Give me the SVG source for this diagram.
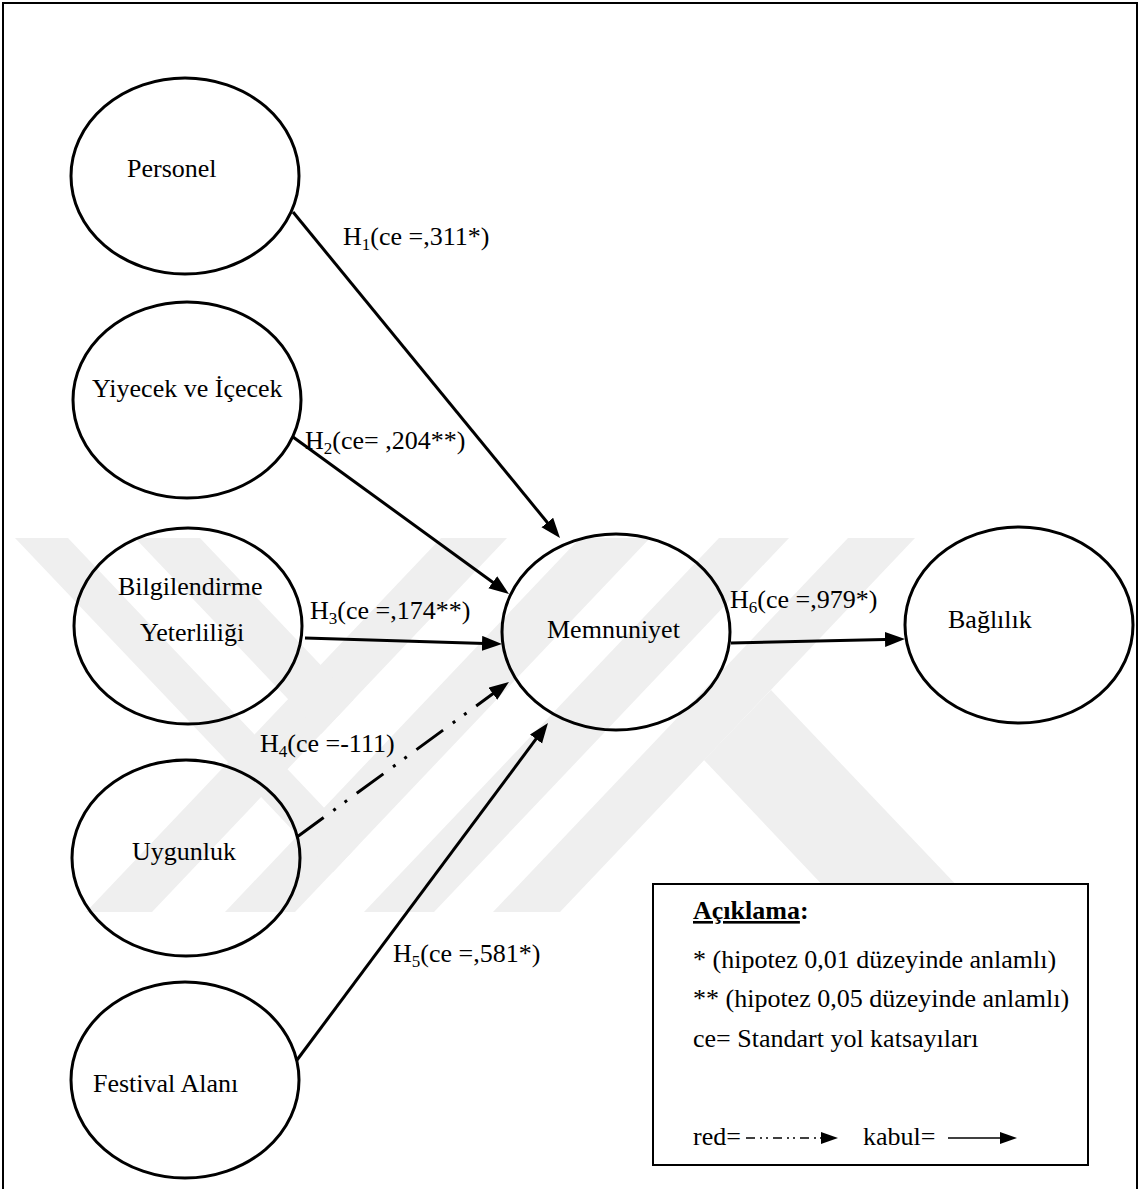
<svg xmlns="http://www.w3.org/2000/svg" width="1140" height="1189" viewBox="0 0 1140 1189">
<style>
.node{fill:none;stroke:#000;stroke-width:3}
.lbl{font-family:"Liberation Serif","Times New Roman",serif;font-size:26px;fill:#000}
.sub{font-size:17px}
.edge{stroke:#000;stroke-width:3;fill:none}
.wm{fill:#efefef}
</style>
<defs>
<marker id="ah" markerUnits="userSpaceOnUse" markerWidth="21" markerHeight="16" refX="11" refY="7.5" orient="auto">
<path d="M0,0 L20,7.5 L0,15 z" fill="#000"/>
</marker>
<clipPath id="wmclip"><rect x="5" y="538" width="1130" height="374"/></clipPath>
</defs>
<rect x="0" y="0" width="1140" height="1189" fill="#fff"/>
<g id="watermark" clip-path="url(#wmclip)">
<polygon class="wm" points="86,912 152,912 507,538 441,538"/>
<polygon class="wm" points="225,912 295,912 650,538 580,538"/>
<polygon class="wm" points="364,912 434,912 789,538 719,538"/>
<polygon class="wm" points="493,912 560,912 915,538 848,538"/>
<polygon class="wm" points="15,538 68,538 359,844.5 332.7,872.4"/>
<polygon class="wm" points="135,538 200,538 353.6,699.7 321.2,733.9"/>
<polygon class="wm" points="771,690 982,912 848,912 704,760"/>
</g>
<path d="M3,1189 V3 H1137 V1189" fill="none" stroke="#000" stroke-width="2"/>
<g id="connectors">
<line class="edge" x1="293" y1="212" x2="554.3" y2="531" marker-end="url(#ah)"/>
<line class="edge" x1="293" y1="437" x2="501.7" y2="588.7" marker-end="url(#ah)"/>
<line class="edge" x1="305" y1="638" x2="493" y2="643.7" stroke-width="4" marker-end="url(#ah)"/>
<line class="edge" x1="297" y1="837" x2="501.7" y2="687.3" stroke-width="4" stroke-dasharray="33 12 3 11 3 12" marker-end="url(#ah)"/>
<line class="edge" x1="297" y1="1060" x2="542.6" y2="730.2" marker-end="url(#ah)"/>
<line class="edge" x1="731" y1="643" x2="896" y2="639.2" stroke-width="5" marker-end="url(#ah)"/>
<text class="lbl" x="343" y="245">H<tspan class="sub" dy="5">1</tspan><tspan dy="-5">(ce =,311*)</tspan></text>
<text class="lbl" x="305" y="449">H<tspan class="sub" dy="5">2</tspan><tspan dy="-5">(ce= ,204**)</tspan></text>
<text class="lbl" x="310" y="619">H<tspan class="sub" dy="5">3</tspan><tspan dy="-5">(ce =,174**)</tspan></text>
<text class="lbl" x="260" y="752">H<tspan class="sub" dy="5">4</tspan><tspan dy="-5">(ce =-111)</tspan></text>
<text class="lbl" x="393" y="962">H<tspan class="sub" dy="5">5</tspan><tspan dy="-5">(ce =,581*)</tspan></text>
<text class="lbl" x="730" y="608">H<tspan class="sub" dy="5">6</tspan><tspan dy="-5">(ce =,979*)</tspan></text>
</g>
<g id="personel"><ellipse class="node" cx="185" cy="176" rx="114" ry="98"/><text class="lbl" x="127" y="177">Personel</text></g>
<g id="yiyecek"><ellipse class="node" cx="187" cy="400" rx="114" ry="98"/><text class="lbl" x="92" y="397">Yiyecek ve İçecek</text></g>
<g id="bilgilendirme"><ellipse class="node" cx="188" cy="626" rx="114" ry="98"/><text class="lbl" x="118" y="595">Bilgilendirme</text><text class="lbl" x="140" y="641">Yeterliliği</text></g>
<g id="uygunluk"><ellipse class="node" cx="186" cy="858" rx="114" ry="98"/><text class="lbl" x="132" y="860">Uygunluk</text></g>
<g id="festival"><ellipse class="node" cx="185" cy="1080" rx="114" ry="98"/><text class="lbl" x="93" y="1092">Festival Alanı</text></g>
<g id="memnuniyet"><ellipse class="node" cx="616" cy="632" rx="114" ry="98"/><text class="lbl" x="547" y="638">Memnuniyet</text></g>
<g id="baglilik"><ellipse class="node" cx="1019" cy="625" rx="114" ry="98"/><text class="lbl" x="948" y="628">Bağlılık</text></g>
<g id="legend">
<rect x="653" y="884" width="435" height="281" fill="#fff" stroke="#000" stroke-width="2"/>
<text class="lbl" x="693" y="919" font-weight="bold"><tspan text-decoration="underline">Açıklama</tspan>:</text>
<text class="lbl" x="693" y="968">* (hipotez 0,01 düzeyinde anlamlı)</text>
<text class="lbl" x="693" y="1007">** (hipotez 0,05 düzeyinde anlamlı)</text>
<text class="lbl" x="693" y="1047">ce= Standart yol katsayıları</text>
<text class="lbl" x="693" y="1145">red=</text>
<line x1="746" y1="1138" x2="823" y2="1138" stroke="#000" stroke-width="1.3" stroke-dasharray="9 5 2 4 2 5"/>
<path d="M821,1132 L838,1138 L821,1144 z" fill="#000"/>
<text class="lbl" x="863" y="1145">kabul=</text>
<line x1="948" y1="1138" x2="1002" y2="1138" stroke="#000" stroke-width="1.3"/>
<path d="M1000,1132 L1017,1138 L1000,1144 z" fill="#000"/>
</g>
</svg>
